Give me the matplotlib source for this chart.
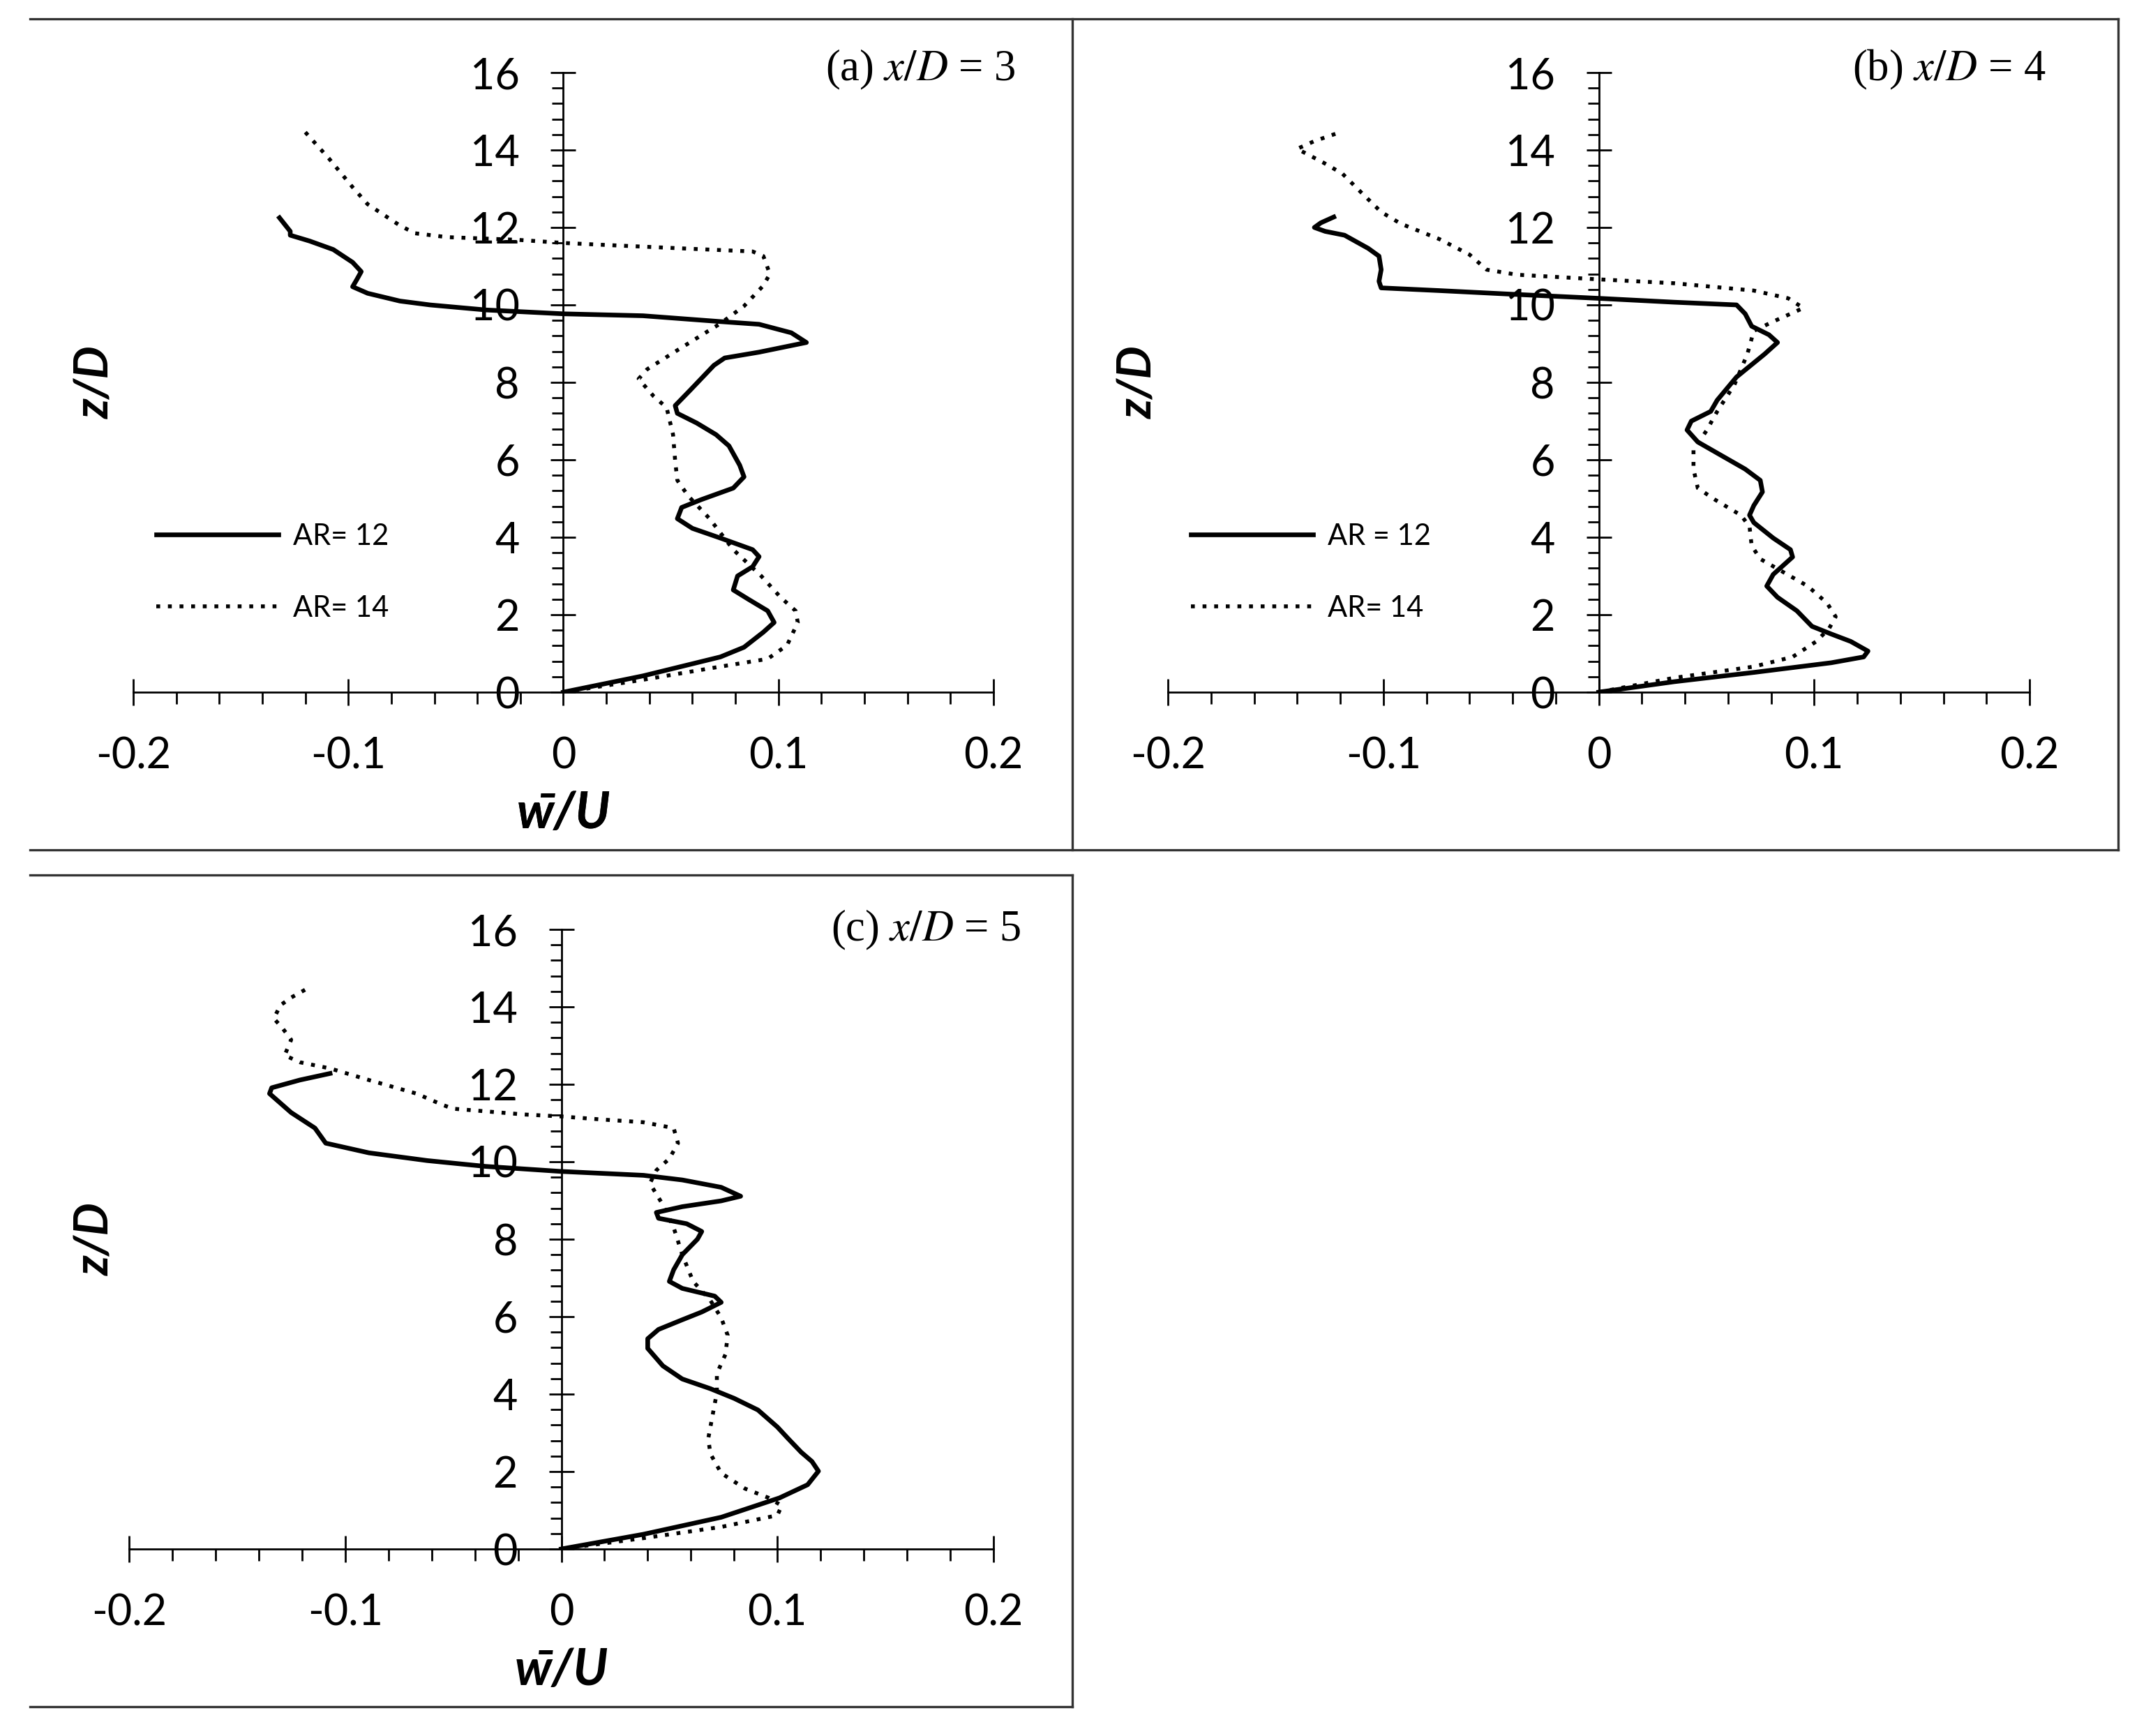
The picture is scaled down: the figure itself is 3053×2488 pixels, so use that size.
import matplotlib
matplotlib.use("Agg")
import matplotlib.pyplot as plt
from matplotlib.lines import Line2D
from matplotlib.ticker import MultipleLocator

plt.rcParams['font.family'] = ['Lato', 'DejaVu Sans']
plt.rcParams['mathtext.fontset'] = 'stix'

# panel (a) x/D = 3
a_w12 = [0, 0.037, 0.073, 0.084, 0.093, 0.098, 0.095, 0.086, 0.079, 0.081, 0.088, 0.091, 0.088, 0.073,
         0.060, 0.053, 0.055, 0.064, 0.079, 0.084, 0.082, 0.077, 0.071, 0.062, 0.053, 0.052, 0.059,
         0.070, 0.075, 0.091, 0.113, 0.106, 0.091, 0.073, 0.037, 0, -0.036, -0.062, -0.076, -0.091,
         -0.098, -0.096, -0.094, -0.098, -0.107, -0.118, -0.127, -0.127, -0.132]
a_z12 = [0, 0.42, 0.91, 1.16, 1.55, 1.80, 2.1, 2.4, 2.64, 3.0, 3.24, 3.5, 3.68, 3.98,
         4.23, 4.48, 4.77, 4.97, 5.27, 5.56, 5.86, 6.36, 6.65, 6.95, 7.2, 7.4, 7.8,
         8.44, 8.63, 8.78, 9.03, 9.28, 9.5, 9.57, 9.72, 9.77, 9.87, 10.0, 10.1, 10.3,
         10.47, 10.66, 10.86, 11.1, 11.43, 11.65, 11.8, 11.9, 12.25]
a_w14 = [0, 0.037, 0.073, 0.095, 0.104, 0.109, 0.108, 0.101, 0.092, 0.079, 0.068, 0.058, 0.053,
         0.052, 0.051, 0.048, 0.042, 0.035, 0.039, 0.053, 0.073, 0.084, 0.093, 0.096, 0.093, 0.088,
         0.055, 0.019, 0, -0.021, -0.054, -0.069, -0.076, -0.091, -0.098, -0.109, -0.120]
a_z14 = [0, 0.32, 0.66, 0.86, 1.21, 1.80, 2.1, 2.45, 3.0, 3.68, 4.48, 5.07, 5.47,
         5.96, 6.65, 7.35, 7.64, 8.09, 8.34, 8.83, 9.52, 9.97, 10.5, 10.8, 11.26, 11.38,
         11.46, 11.55, 11.6, 11.68, 11.75, 11.85, 12.05, 12.6, 13.04, 13.78, 14.46]

# panel (b) x/D = 4
b_w12 = [0, 0.035, 0.072, 0.108, 0.123, 0.125, 0.117, 0.108, 0.099, 0.092, 0.083, 0.078, 0.081,
         0.090, 0.089, 0.081, 0.072, 0.070, 0.072, 0.076, 0.075, 0.068, 0.057, 0.046, 0.041, 0.043,
         0.052, 0.055, 0.064, 0.077, 0.083, 0.079, 0.071, 0.068, 0.064, 0.035, 0, -0.038, -0.074,
         -0.101, -0.102, -0.101, -0.102, -0.107, -0.118, -0.127, -0.132, -0.129, -0.123]
b_z12 = [0, 0.27, 0.51, 0.76, 0.91, 1.06, 1.31, 1.50, 1.70, 2.10, 2.45, 2.74, 3.04,
         3.49, 3.68, 3.98, 4.38, 4.57, 4.82, 5.17, 5.47, 5.76, 6.11, 6.46, 6.77, 7.0,
         7.25, 7.54, 8.14, 8.73, 9.03, 9.23, 9.45, 9.77, 10.0, 10.07, 10.17, 10.27, 10.37,
         10.44, 10.61, 10.91, 11.26, 11.46, 11.8, 11.9, 12.0, 12.12, 12.27]
b_w14 = [0, 0.035, 0.072, 0.090, 0.101, 0.107, 0.110, 0.106, 0.097, 0.086, 0.075, 0.071, 0.070,
         0.066, 0.054, 0.046, 0.044, 0.044, 0.050, 0.055, 0.063, 0.069, 0.072, 0.081, 0.095, 0.088,
         0.072, 0.035, 0, -0.038, -0.052, -0.060, -0.074, -0.092, -0.101, -0.110, -0.119, -0.128,
         -0.140, -0.132, -0.119]
b_z14 = [0, 0.37, 0.66, 0.91, 1.31, 1.65, 1.95, 2.30, 2.74, 3.09, 3.44, 3.78, 4.28,
         4.57, 4.97, 5.27, 5.76, 6.26, 6.75, 7.25, 7.94, 8.73, 9.33, 9.57, 9.92, 10.17,
         10.37, 10.56, 10.66, 10.78, 10.91, 11.3, 11.7, 12.1, 12.4, 12.89, 13.39, 13.68,
         14.03, 14.23, 14.48]

# panel (c) x/D = 5
c_w12 = [0, 0.038, 0.074, 0.101, 0.114, 0.119, 0.116, 0.111, 0.105, 0.100, 0.091, 0.080, 0.069,
         0.056, 0.047, 0.040, 0.040, 0.045, 0.056, 0.065, 0.074, 0.071, 0.056, 0.050, 0.052, 0.056,
         0.063, 0.065, 0.058, 0.045, 0.044, 0.056, 0.074, 0.083, 0.074, 0.056, 0.038, 0, -0.035,
         -0.062, -0.089, -0.109, -0.114, -0.125, -0.135, -0.134, -0.121, -0.107]
c_z12 = [0, 0.38, 0.82, 1.32, 1.66, 2.01, 2.26, 2.50, 2.85, 3.15, 3.59, 3.89, 4.14,
         4.39, 4.73, 5.18, 5.43, 5.67, 5.92, 6.12, 6.37, 6.53, 6.73, 6.91, 7.21, 7.6,
         8.0, 8.2, 8.40, 8.54, 8.69, 8.84, 8.99, 9.11, 9.34, 9.53, 9.65, 9.75, 9.88,
         10.03, 10.23, 10.48, 10.87, 11.27, 11.76, 11.91, 12.11, 12.28]
c_w14 = [0, 0.038, 0.074, 0.100, 0.102, 0.096, 0.085, 0.074, 0.069, 0.068, 0.070, 0.072, 0.072,
         0.076, 0.077, 0.074, 0.069, 0.061, 0.056, 0.052, 0.047, 0.041, 0.044, 0.050, 0.054, 0.052,
         0.038, 0.019, 0, -0.017, -0.050, -0.055, -0.067, -0.089, -0.107, -0.121, -0.128, -0.125,
         -0.129, -0.133, -0.130, -0.125, -0.117]
c_z14 = [0, 0.28, 0.57, 0.87, 1.12, 1.32, 1.56, 1.96, 2.46, 2.85, 3.45, 4.04, 4.53,
         5.03, 5.52, 5.97, 6.42, 6.91, 7.60, 8.30, 8.89, 9.44, 9.78, 10.08, 10.48, 10.87,
         11.02, 11.09, 11.17, 11.22, 11.37, 11.47, 11.76, 12.11, 12.41, 12.57, 12.75, 13.15,
         13.45, 13.70, 14.04, 14.24, 14.49]

titles = [r'(a) $x/D$ = 3', r'(b) $x/D$ = 4', r'(c) $x/D$ = 5']
legend_labels = [['AR= 12', 'AR= 14'], ['AR = 12', 'AR= 14'], None]
xtick_vals = [-0.2, -0.1, 0, 0.1, 0.2]
xtick_text = ['-0.2', '-0.1', '0', '0.1', '0.2']
ytick_vals = [0, 2, 4, 6, 8, 10, 12, 14, 16]

W, H = 3053, 2488
DPI = 200
fig = plt.figure(figsize=(W / DPI, H / DPI), dpi=DPI)


def fx(px):
    return px / W


def fy(py):
    return 1 - py / H


# axes boxes in pixels: (x at -0.2, x at 0.2, y at 16, y at 0)
boxes = [(191, 1424, 104, 992), (1674, 2909, 104, 992), (185, 1424, 1332, 2220)]
title_pos = [(1456, 100), (2932, 100), (1463, 1333)]
leg_pos = [(224, 750), (1707, 750), None]
series = [(a_w12, a_z12, a_w14, a_z14), (b_w12, b_z12, b_w14, b_z14), (c_w12, c_z12, c_w14, c_z14)]

for i in range(3):
    x0, x1, yt, yb = boxes[i]
    ax = fig.add_axes([fx(x0), fy(yb), (x1 - x0) / W, (yb - yt) / H])
    w12, z12, w14, z14 = series[i]
    l12, = ax.plot(w12, z12, color='black', lw=2.4, solid_joinstyle='round')
    l14, = ax.plot(w14, z14, color='black', lw=2.0, linestyle=(0, (1, 2)))
    ax.set_xlim(-0.2, 0.2)
    ax.set_ylim(0, 16)
    ax.spines['top'].set_visible(False)
    ax.spines['right'].set_visible(False)
    ax.spines['left'].set_position(('data', 0))
    for s in ['left', 'bottom']:
        ax.spines[s].set_linewidth(1.0)
    ax.set_xticks(xtick_vals)
    ax.set_xticklabels(xtick_text)
    ax.set_yticks(ytick_vals)
    ax.xaxis.set_minor_locator(MultipleLocator(0.02))
    ax.yaxis.set_minor_locator(MultipleLocator(0.4))
    ax.tick_params(axis='x', which='major', direction='inout', length=13.5, width=1.0,
                   pad=16, labelsize=22)
    ax.tick_params(axis='x', which='minor', direction='out', length=6, width=1.0)
    ax.tick_params(axis='y', which='major', direction='inout', length=13, width=1.0,
                   pad=16, labelsize=22)
    ax.tick_params(axis='y', which='minor', direction='out', length=5.8, width=1.0)
    ax.patch.set_visible(False)

    ax.text((808 - x0) / (x1 - x0) if i < 2 else 0.5, -(1167 - 992) / (yb - yt),
            'w\u0304/U', transform=ax.transAxes, ha='center', va='center',
            fontsize=26, fontweight='bold', fontstyle='italic')
    zx = [137, 1632, 137][i]
    fig.text(fx(zx), fy((yt + yb) / 2), 'z/D', rotation=90, ha='center', va='center',
             fontsize=24, fontweight='bold', fontstyle='italic')
    tx, ty = title_pos[i]
    fig.text(fx(tx), fy(ty), titles[i], ha='right', va='center', fontsize=22.5,
             family='Liberation Serif')

    if legend_labels[i]:
        lx, ly = leg_pos[i]
        ax.legend([l12, l14], legend_labels[i], loc='upper left',
                  bbox_to_anchor=(fx(lx), fy(ly)), bbox_transform=fig.transFigure,
                  frameon=False, fontsize=15, handlelength=4.2, handletextpad=0.5,
                  labelspacing=1.55, borderpad=0, borderaxespad=0)

# panel frames
fl = dict(color='#333333', lw=1.2, transform=fig.transFigure)
frame_lines = [
    ([43, 3036], [27, 27]),
    ([43, 3036], [1218, 1218]),
    ([1537, 1537], [27, 1218]),
    ([3036, 3036], [27, 1218]),
    ([43, 1537], [1254, 1254]),
    ([43, 1537], [2446, 2446]),
    ([1537, 1537], [1254, 2446]),
]
for xs, ys in frame_lines:
    fig.add_artist(Line2D([fx(v) for v in xs], [fy(v) for v in ys], **fl))

fig.savefig('out.png', dpi=DPI)
